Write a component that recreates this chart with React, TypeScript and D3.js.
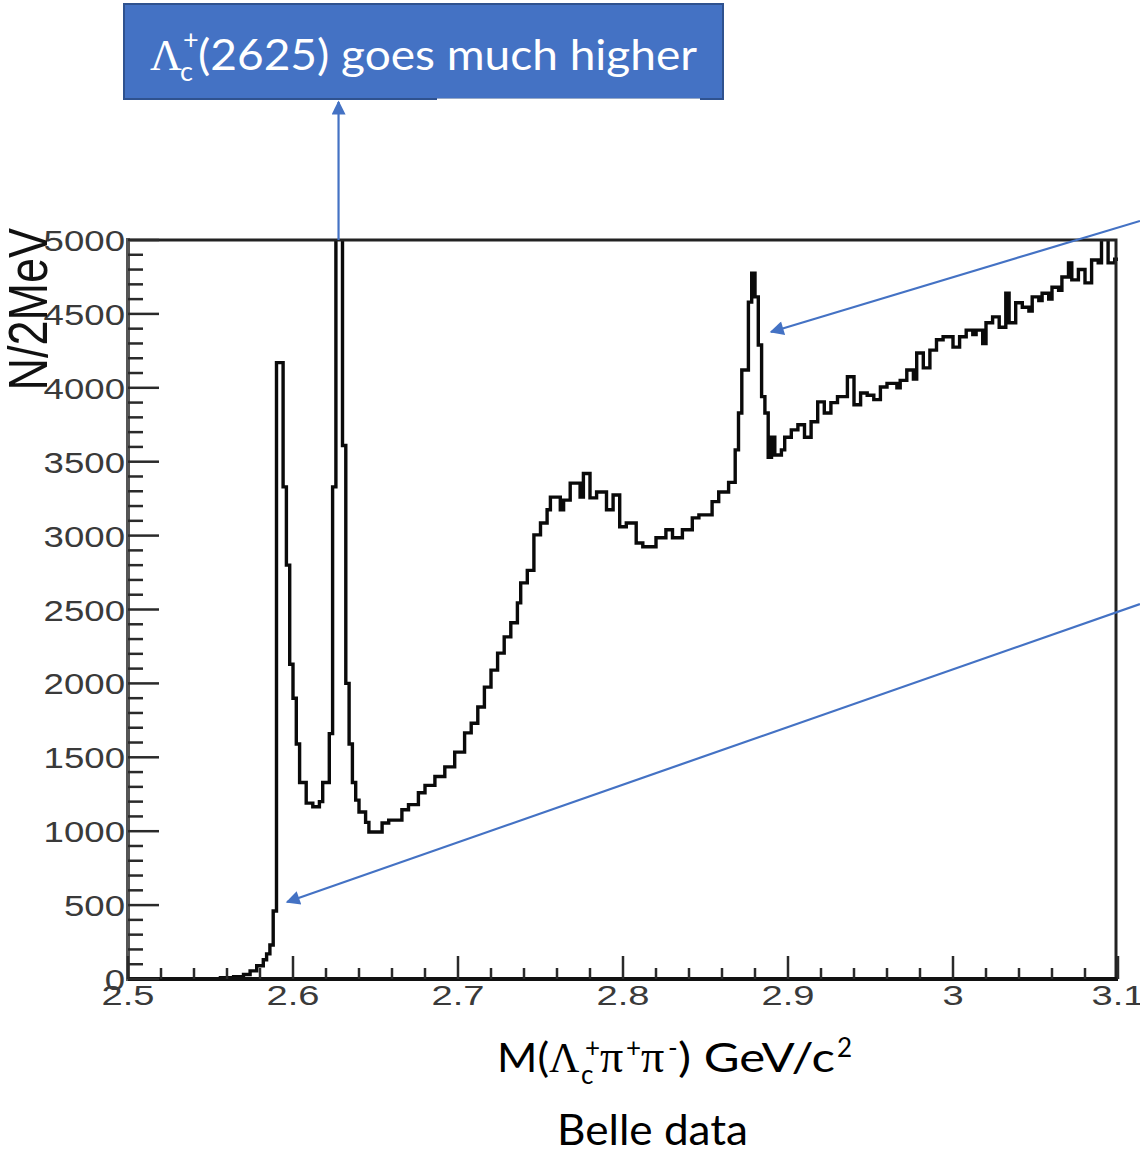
import { curveStepAfter, line, range, scaleLinear } from "d3";

// histogram bins (left edge in GeV, entries per 2 MeV)
const binStart = [
  2.5, 2.556, 2.564, 2.57, 2.574, 2.578, 2.582, 2.584, 2.586, 2.588,
  2.59, 2.594, 2.596, 2.598, 2.6, 2.602, 2.604, 2.608, 2.612, 2.616,
  2.618, 2.622, 2.624, 2.626, 2.63, 2.632, 2.634, 2.636, 2.638, 2.64,
  2.644, 2.646, 2.654, 2.658, 2.666, 2.67, 2.676, 2.68, 2.686, 2.692,
  2.698, 2.704, 2.708, 2.712, 2.716, 2.72, 2.724, 2.728, 2.732, 2.736,
  2.738, 2.742, 2.746, 2.75, 2.754, 2.756, 2.762, 2.764, 2.768, 2.774,
  2.776, 2.78, 2.784, 2.79, 2.794, 2.798, 2.802, 2.808, 2.812, 2.82,
  2.826, 2.83, 2.836, 2.842, 2.846, 2.854, 2.858, 2.864, 2.868, 2.87,
  2.872, 2.876, 2.878, 2.88, 2.882, 2.884, 2.886, 2.888, 2.89, 2.892,
  2.896, 2.898, 2.902, 2.906, 2.91, 2.914, 2.918, 2.922, 2.926, 2.93,
  2.936, 2.94, 2.944, 2.948, 2.952, 2.956, 2.96, 2.966, 2.968, 2.972,
  2.976, 2.978, 2.982, 2.986, 2.99, 2.994, 3.0, 3.004, 3.008, 3.012,
  3.014, 3.018, 3.02, 3.024, 3.028, 3.032, 3.034, 3.038, 3.042, 3.046,
  3.048, 3.052, 3.054, 3.058, 3.06, 3.064, 3.066, 3.07, 3.072, 3.076,
  3.08, 3.084, 3.088, 3.09, 3.094, 3.098,
];
const binCount = [
  0, 8, 15, 30, 55, 90, 130, 170, 230, 460,
  4170, 3330, 2800, 2130, 1900, 1590, 1330, 1190, 1165, 1200,
  1330, 1660, 3330, 9000, 3610, 2000, 1590, 1330, 1210, 1130,
  1060, 995, 1055, 1075, 1145, 1180, 1260, 1310, 1370, 1435,
  1535, 1665, 1730, 1840, 1975, 2090, 2205, 2315, 2410, 2545,
  2680, 2765, 3005, 3085, 3175, 3260, 3175, 3240, 3355, 3260,
  3420, 3255, 3295, 3175, 3275, 3060, 3085, 2950, 2925, 2985,
  3040, 2985, 3040, 3120, 3140, 3230, 3295, 3360, 3580, 3830,
  4120, 4580, 4775, 4615, 4290, 3940, 3830, 3530, 3665, 3545,
  3580, 3665, 3715, 3750, 3665, 3770, 3905, 3830, 3900, 3940,
  4075, 3885, 3965, 3950, 3920, 4005, 4030, 4000, 4050, 4120,
  4060, 4235, 4135, 4255, 4325, 4345, 4275, 4345, 4390, 4360,
  4390, 4300, 4440, 4480, 4410, 4640, 4440, 4575, 4545, 4520,
  4615, 4590, 4640, 4600, 4680, 4660, 4750, 4845, 4730, 4800,
  4710, 4865, 4845, 5200, 4845, 4870,
];
const massMax = 3.1;

const yMajorTicks = range(0, 5001, 500);
const yMinorTicks = range(0, 5001, 100);
const xMajorTicks = [2.5, 2.6, 2.7, 2.8, 2.9, 3.0, 3.1];
const xTickLabels = ["2.5", "2.6", "2.7", "2.8", "2.9", "3", "3.1"];
const xMinorTicks = range(0, 31).map((i) => 2.5 + i * 0.02);

// annotation arrows in data units: [fromMass, fromCount, toMass, toCount]
const arrowA = [2.6276, 5000, 2.6276, 9200];
const arrowB = [3.1133, 5129, 2.8897, 4378];
const arrowC = [3.1133, 2537, 2.5964, 521];

const BLUE = "#4472C4";
const LEFT = 128;
const RIGHT = 1118;
const TOP = 240;
const BOTTOM = 979;

export default function App() {
  const x = scaleLinear().domain([2.5, 3.1]).range([LEFT, RIGHT]);
  const y = scaleLinear().domain([0, 5000]).range([BOTTOM, TOP]);

  const pts: [number, number][] = binStart.map((m, i) => [m, binCount[i]]);
  pts.push([massMax, binCount[binCount.length - 1]]);
  const histPath =
    line<[number, number]>()
      .x((d) => x(d[0]))
      .y((d) => y(d[1]))
      .curve(curveStepAfter)(pts) ?? "";

  const arrow = (a: number[], key: string) => (
    <line
      key={key}
      x1={x(a[0])}
      y1={y(a[1])}
      x2={x(a[2])}
      y2={Math.max(y(a[3]), 102)}
      stroke={BLUE}
      strokeWidth={2.2}
      markerEnd="url(#head)"
    />
  );

  const serif = "'Liberation Serif', 'DejaVu Serif', serif";
  const sans = "Lato, 'Open Sans', sans-serif";
  const rootFont = "'Liberation Sans', Arial, sans-serif";

  return (
    <svg
      width={1140}
      height={1152}
      style={{ position: "absolute", left: 0, top: 0, background: "#fff" }}
      fontFamily={rootFont}
    >
      <defs>
        <clipPath id="plot">
          <rect x={LEFT} y={TOP} width={RIGHT - LEFT} height={BOTTOM - TOP} />
        </clipPath>
        <marker
          id="head"
          viewBox="0 0 10 10"
          refX="9"
          refY="5"
          markerWidth="17"
          markerHeight="14"
          markerUnits="userSpaceOnUse"
          orient="auto"
        >
          <path d="M0,0 L10,5 L0,10 z" fill={BLUE} />
        </marker>
      </defs>

      {/* histogram */}
      <path
        d={histPath}
        fill="none"
        stroke="#0a0a0a"
        strokeWidth={3.4}
        clipPath="url(#plot)"
      />

      {/* frame */}
      <rect
        x={LEFT}
        y={TOP}
        width={RIGHT - LEFT - 2}
        height={BOTTOM - TOP}
        fill="none"
        stroke="#222"
        strokeWidth={3}
      />
      <line x1={LEFT} x2={LEFT} y1={TOP - 2} y2={BOTTOM + 2} stroke="#555" strokeWidth={4} />
      <line x1={LEFT} x2={RIGHT} y1={BOTTOM} y2={BOTTOM} stroke="#111" strokeWidth={4} />

      {/* y ticks */}
      {yMinorTicks.map((v) => (
        <line
          key={`ym${v}`}
          x1={LEFT}
          x2={LEFT + (v % 500 === 0 ? 31 : 15)}
          y1={y(v)}
          y2={y(v)}
          stroke="#2a2a2a"
          strokeWidth={2.5}
        />
      ))}
      {/* x ticks */}
      {xMinorTicks.map((v, i) => (
        <line
          key={`xm${i}`}
          x1={x(v)}
          x2={x(v)}
          y1={BOTTOM}
          y2={BOTTOM - (i % 5 === 0 ? 23 : 11)}
          stroke="#2a2a2a"
          strokeWidth={2.5}
        />
      ))}

      {/* y tick labels */}
      {yMajorTicks.map((v) => (
        <text
          key={`yl${v}`}
          transform={`translate(${LEFT - 3},${y(v) + 11}) scale(1.22,1)`}
          textAnchor="end"
          fontSize={30}
          fill="#3a3a3a"
        >
          {v}
        </text>
      ))}
      {/* x tick labels */}
      {xMajorTicks.map((v, i) => (
        <text
          key={`xl${i}`}
          transform={`translate(${x(v)},${BOTTOM + 26}) scale(1.36,1)`}
          textAnchor="middle"
          fontSize={28}
          fill="#3a3a3a"
        >
          {xTickLabels[i]}
        </text>
      ))}

      {/* y axis title */}
      <text
        transform="translate(47,228) rotate(-90) scale(1,1.25)"
        textAnchor="end"
        fontSize={45}
        fill="#111"
      >
        N/2MeV
      </text>

      {/* arrows */}
      {arrow(arrowA, "a")}
      {arrow(arrowB, "b")}
      {arrow(arrowC, "c")}

      {/* banner */}
      <rect x={124} y={4} width={599} height={95} fill={BLUE} stroke="#2F528F" strokeWidth={2} />
      <line x1={437} x2={700} y1={99.5} y2={99.5} stroke="#fff" strokeWidth={2} />
      <g fill="#fff">
        <text x={150} y={70} fontFamily={serif} fontSize={44}>Λ</text>
        <text x={180} y={81} fontFamily={sans} fontSize={27}>c</text>
        <text x={183} y={49} fontFamily={sans} fontSize={27}>+</text>
        <text
          x={198}
          y={70}
          fontFamily={sans}
          fontSize={42}
          textLength={499}
          lengthAdjust="spacingAndGlyphs"
        >
          (2625) goes much higher
        </text>
      </g>

      {/* x axis title */}
      <g fill="#000" fontFamily={sans}>
        <text x={497} y={1072} fontSize={40} textLength={52} lengthAdjust="spacingAndGlyphs">M(</text>
        <text x={549} y={1072} fontFamily={serif} fontSize={42}>Λ</text>
        <text x={581} y={1084} fontSize={26}>c</text>
        <text x={585} y={1057} fontSize={26}>+</text>
        <text x={600} y={1072} fontFamily={serif} fontSize={46}>π</text>
        <text x={626} y={1057} fontSize={26}>+</text>
        <text x={641} y={1072} fontFamily={serif} fontSize={46}>π</text>
        <text x={668} y={1057} fontSize={26}>-</text>
        <text x={678} y={1072} fontSize={40} textLength={157} lengthAdjust="spacingAndGlyphs">) GeV/c</text>
        <text x={837} y={1057} fontSize={26}>2</text>
        <text x={557} y={1145} fontSize={42} textLength={191} lengthAdjust="spacingAndGlyphs">Belle data</text>
      </g>
    </svg>
  );
}
